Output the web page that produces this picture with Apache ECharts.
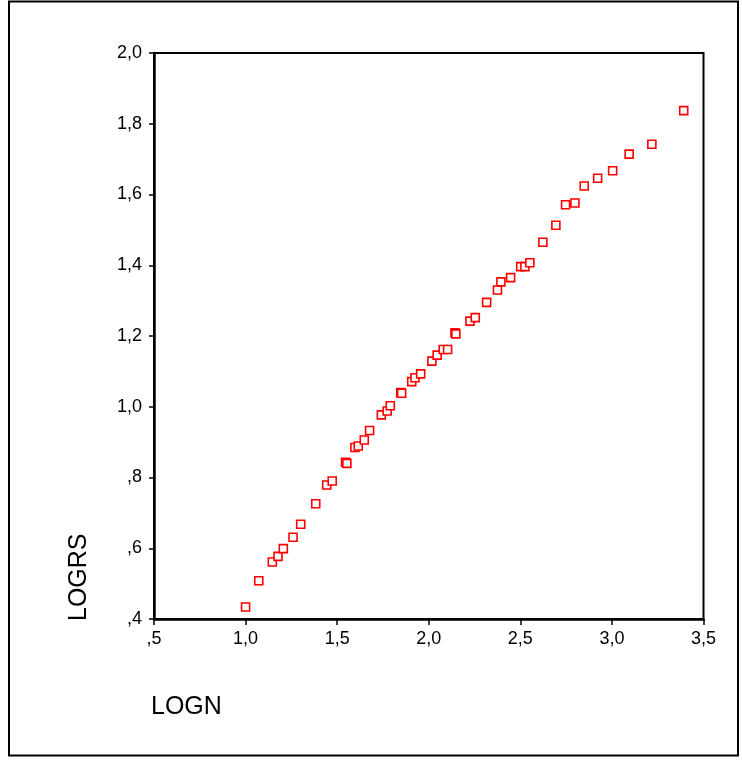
<!DOCTYPE html>
<html>
<head>
<meta charset="utf-8">
<script src="https://cdn.jsdelivr.net/npm/echarts@6/dist/echarts.min.js"></script>
<style>
  html, body { margin: 0; padding: 0; background: #fff; }
  #chart { width: 742px; height: 760px; }
</style>
</head>
<body>
<div id="chart"></div>
<script>
// LOGN values
const logN = [
  1.0, 1.072, 1.146, 1.177, 1.206, 1.259, 1.301, 1.383, 1.443, 1.473,
  1.546, 1.553, 1.597, 1.615, 1.648, 1.677, 1.741, 1.773, 1.79, 1.847,
  1.852, 1.907, 1.925, 1.956, 2.017, 2.046, 2.079, 2.103, 2.143, 2.148,
  2.225, 2.254, 2.316, 2.375, 2.394, 2.447, 2.502, 2.525, 2.552, 2.623,
  2.694, 2.747, 2.798, 2.849, 2.922, 3.004, 3.094, 3.218, 3.392
]
// LOGRS values
const logRS = [
  0.434, 0.508, 0.561, 0.577, 0.599, 0.631, 0.668, 0.726, 0.779, 0.79,
  0.843, 0.84, 0.885, 0.889, 0.906, 0.933, 0.977, 0.988, 1.003, 1.04,
  1.038, 1.071, 1.082, 1.093, 1.129, 1.146, 1.162, 1.162, 1.209, 1.206,
  1.242, 1.252, 1.295, 1.33, 1.353, 1.365, 1.396, 1.396, 1.407, 1.465,
  1.513, 1.571, 1.576, 1.624, 1.646, 1.667, 1.714, 1.742, 1.837
]

const font = 'Liberation Sans, Arial, sans-serif'

// SPSS style: decimal comma, no leading zero
function spssLabel (v) {
  return v.toFixed(1).replace('.', ',').replace(/^0,/, ',')
}

const dom = echarts.init(document.getElementById('chart'))
const option = {
  animation: false,
  backgroundColor: '#fff',
  grid: {
    left: 154, right: 38.5, top: 53, bottom: 141,
    show: true, borderColor: '#000', borderWidth: 2
  },
  xAxis: {
    type: 'value',
    min: 0.5, max: 3.5, interval: 0.5,
    axisLine: { lineStyle: { color: '#000', width: 2.5 } },
    axisTick: { show: true, length: 6, lineStyle: { color: '#000', width: 1.5 } },
    axisLabel: { color: '#000', fontFamily: font, fontSize: 18, margin: 11, formatter: spssLabel },
    splitLine: { show: false }
  },
  yAxis: {
    type: 'value',
    min: 0.4, max: 2.0, interval: 0.2,
    axisLine: { lineStyle: { color: '#000', width: 2.5 } },
    axisTick: { show: true, length: 5, lineStyle: { color: '#000', width: 1.5 } },
    axisLabel: { color: '#000', fontFamily: font, fontSize: 18, margin: 12, formatter: spssLabel },
    splitLine: { show: false }
  },
  graphic: [{
    type: 'rect',
    shape: { x: 9, y: 1.5, width: 729, height: 754 },
    style: { fill: 'none', stroke: '#000', lineWidth: 2 },
    silent: true
  }, {
    type: 'text',
    x: 151, y: 707,
    style: { text: 'LOGN', fill: '#000', font: '25px ' + font, textVerticalAlign: 'middle' }
  }, {
    type: 'text',
    x: 79, y: 621,
    rotation: Math.PI / 2,
    style: { text: 'LOGRS', fill: '#000', font: '25px ' + font, textVerticalAlign: 'middle', textAlign: 'left' }
  }],
  series: [{
    type: 'scatter',
    symbol: 'rect',
    symbolSize: 8,
    itemStyle: { color: '#fff', borderColor: '#ff0000', borderWidth: 1.6, opacity: 1 },
    data: logN.map((x, i) => [x, logRS[i]])
  }]
}
dom.setOption(option)
</script>
</body>
</html>
